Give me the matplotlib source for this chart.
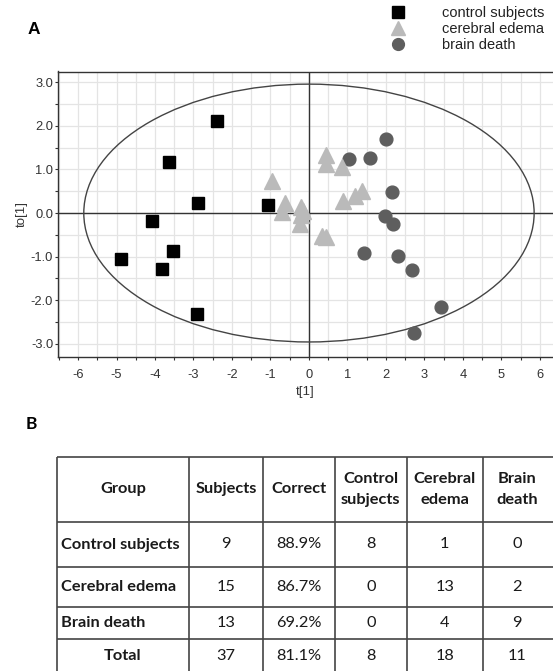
import matplotlib
matplotlib.use('Agg')  # no display

import matplotlib.pyplot as plt
from matplotlib.patches import Ellipse
from matplotlib.lines import Line2D
from matplotlib.ticker import MultipleLocator, FormatStrFormatter

# score plot data, t[1] / to[1]
ctrl_t = [-2.40, -3.63, -2.89, -1.06, -4.09, -3.52, -4.88, -3.82, -2.92]
ctrl_to = [2.12, 1.17, 0.22, 0.18, -0.18, -0.87, -1.06, -1.29, -2.31]

edema_t = [0.45, 0.45, 0.85, -0.95, 1.38, 1.19, 0.88, -0.63, -0.69, -0.20, -0.20, -0.22, 0.35, 0.45, -0.15]
edema_to = [1.33, 1.12, 1.06, 0.74, 0.51, 0.39, 0.28, 0.23, 0.03, 0.15, -0.05, -0.24, -0.52, -0.56, 0.05]

death_t = [1.99, 1.04, 1.59, 2.16, 1.97, 2.18, 1.44, 2.31, 2.68, 3.42, 2.74]
death_to = [1.71, 1.25, 1.27, 0.49, -0.07, -0.25, -0.92, -0.98, -1.30, -2.16, -2.75]

# Hotelling ellipse half axes
ell_a, ell_b = 5.85, 2.96

# classification table
header = ["Group", "Subjects", "Correct", "Control\nsubjects", "Cerebral\nedema", "Brain\ndeath"]
groups = ["Control subjects", "Cerebral edema", "Brain death", "Total"]
subjects = [9, 15, 13, 37]
correct = ["88.9%", "86.7%", "69.2%", "81.1%"]
pred_control = [8, 0, 0, 8]
pred_edema = [1, 13, 4, 18]
pred_death = [0, 2, 9, 11]

plt.rcParams['font.family'] = ['Liberation Sans', 'DejaVu Sans']
plt.rcParams['axes.unicode_minus'] = False

W, H = 553, 671
fig = plt.figure(figsize=(W/100, H/100), dpi=100)

# ---- panel A ----
ax = fig.add_axes([58/W, 1-357/H, (W-58)/W, (357-71.5)/H])
ax.set_xlim(-6.52, 6.34)
ax.set_ylim(-3.305, 3.25)

ax.xaxis.set_major_locator(MultipleLocator(1))
ax.xaxis.set_minor_locator(MultipleLocator(0.5))
ax.yaxis.set_major_locator(MultipleLocator(1))
ax.yaxis.set_minor_locator(MultipleLocator(0.5))
ax.yaxis.set_major_formatter(FormatStrFormatter('%.1f'))
ax.grid(True, which='both', color='#e4e4e4', lw=0.9, zorder=0)
ax.set_axisbelow(True)
ax.tick_params(which='both', direction='out', colors='#333333', labelcolor='#333333',
               labelsize=9.3, width=0.8)
ax.tick_params(which='major', length=2.5)
ax.tick_params(which='minor', length=2)
ax.tick_params(axis='y', pad=1)
ax.tick_params(axis='x', pad=6)
for s in ['left', 'bottom', 'top']:
    ax.spines[s].set_color('#333333')
    ax.spines[s].set_linewidth(1)
ax.spines['right'].set_visible(False)

ax.axhline(0, color='#333333', lw=1, zorder=1)
ax.axvline(0, color='#333333', lw=1, zorder=1)
ax.add_patch(Ellipse((0, 0), 2*ell_a, 2*ell_b, fill=False, edgecolor='#444444', lw=1, zorder=2))

c_sq, c_tri, c_circ = '#000000', '#bababa', '#5e5e5e'
ax.plot(death_t, death_to, 'o', ms=9.2, color=c_circ, mec=c_circ, zorder=3)
ax.plot(edema_t, edema_to, '^', ms=11.8, color=c_tri, mec=c_tri, zorder=4)
ax.plot(ctrl_t, ctrl_to, 's', ms=9, color=c_sq, mec=c_sq, zorder=5)

ax.set_xlabel('t[1]', fontsize=9.5, color='#333333', labelpad=4)
ax.set_ylabel('to[1]', fontsize=9.5, color='#333333', labelpad=2)

handles = [Line2D([], [], ls='', marker='s', ms=8, color=c_sq),
           Line2D([], [], ls='', marker='^', ms=10, color=c_tri),
           Line2D([], [], ls='', marker='o', ms=8.5, color=c_circ)]
fig.legend(handles, ['control subjects', 'cerebral edema', 'brain death'],
           loc='upper left', bbox_to_anchor=(390.5/W, 1-6.5/H), frameon=False,
           fontsize=10.5, handlelength=1.0, handletextpad=2.55, labelspacing=0.12,
           borderpad=0, borderaxespad=0, labelcolor='#222222')

fig.text(28/W, 1-29/H, 'A', fontsize=12.5, fontweight='bold', va='center', ha='left')

# ---- panel B ----
tax = fig.add_axes([0, 0, 1, 1], zorder=-1)
tax.set_xlim(0, W)
tax.set_ylim(H, 0)
tax.axis('off')

fig.text(26/W, 1-424/H, 'B', fontsize=12.5, fontweight='bold', va='center', ha='left',
         family=['Lato', 'DejaVu Sans'])

col_edges = [57, 189, 263.3, 335, 406.7, 482.7, 557]
row_edges = [456.7, 522, 567, 606.7, 639, 674]
tax.vlines(col_edges, row_edges[0], row_edges[-1], color='#444444', lw=1.2)
tax.hlines(row_edges, col_edges[0], col_edges[-1], color='#444444', lw=1.2)

tfont = dict(family=['Lato', 'DejaVu Sans'], fontsize=11.8, color='#1a1a1a')
cx = [(col_edges[i] + col_edges[i+1]) / 2 for i in range(len(col_edges)-1)]
cx[-1] = (col_edges[-2] + 552) / 2
cy = [(row_edges[i] + row_edges[i+1]) / 2 for i in range(len(row_edges)-1)]

for i, h in enumerate(header):
    tax.text(cx[i], cy[0], h, ha='center', va='center', fontweight='bold',
             linespacing=1.6, **tfont)

for r, g in enumerate(groups):
    y = cy[r+1]
    if g == 'Total':
        tax.text(cx[0], y, g, ha='center', va='center', fontweight='bold', **tfont)
    else:
        tax.text(col_edges[0] + 4, y, g, ha='left', va='center', fontweight='bold', **tfont)
    vals = [subjects[r], correct[r], pred_control[r], pred_edema[r], pred_death[r]]
    for c, v in enumerate(vals):
        tax.text(cx[c+1], y, str(v), ha='center', va='center', **tfont)

fig.savefig('out.png', dpi=100)
